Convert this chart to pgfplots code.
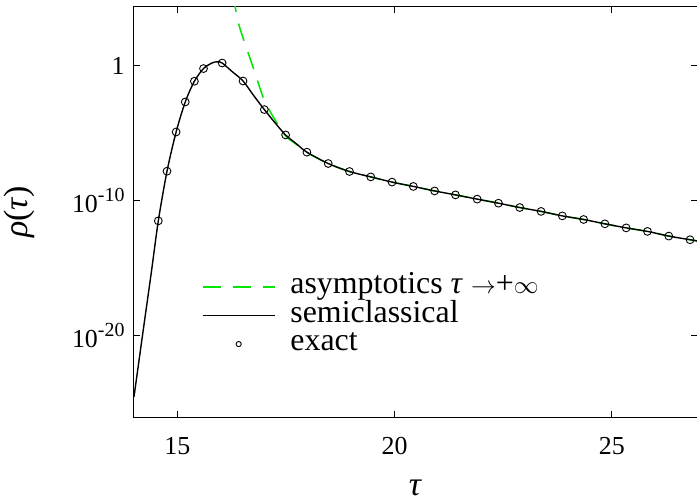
\documentclass[border=0pt]{standalone}
\usepackage{fontspec}
\setmainfont{Liberation Serif}
\usepackage{pgfplots}
\usepackage{pgfplotstable}
\pgfplotsset{compat=1.18}
\definecolor{asymgreen}{RGB}{0,230,0}

% exact values
\pgfplotstableread{
tau rho
14.56 3.09e-12
14.76 1.48e-8
14.97 1.20e-5
15.18 2.0e-3
15.39 6.9e-2
15.60 0.60
16.03 1.55
16.51 7.2e-2
17.00 5.5e-4
17.49 7.2e-6
17.98 3.8e-7
18.47 5.5e-8
18.96 1.41e-8
19.45 5.6e-9
19.94 2.3e-9
20.43 1.10e-9
20.92 5.1e-10
21.40 2.6e-10
21.90 1.26e-10
22.39 6.3e-11
22.88 3.0e-11
23.37 1.55e-11
23.86 7.2e-12
24.35 3.9e-12
24.84 1.86e-12
25.33 9.3e-13
25.82 5.1e-13
26.31 2.3e-13
26.80 1.23e-13
}\exacttab

% semiclassical curve
\pgfplotstableread{
tau rho
14.00 2.8e-25
14.20 1.26e-20
14.40 5.0e-16
14.56 3.09e-12
14.76 1.48e-8
14.97 1.20e-5
15.18 2.0e-3
15.39 6.9e-2
15.60 0.60
15.80 1.58
15.92 1.9
16.03 1.55
16.25 0.38
16.51 7.2e-2
16.75 6.3e-3
17.00 5.5e-4
17.25 5.6e-5
17.49 7.2e-6
17.75 1.48e-6
17.98 3.8e-7
18.47 5.5e-8
18.96 1.41e-8
19.45 5.6e-9
19.94 2.3e-9
20.43 1.10e-9
20.92 5.1e-10
21.40 2.6e-10
21.90 1.26e-10
22.39 6.3e-11
22.88 3.0e-11
23.37 1.55e-11
23.86 7.2e-12
24.35 3.9e-12
24.84 1.86e-12
25.33 9.3e-13
25.82 5.1e-13
26.31 2.3e-13
26.80 1.23e-13
26.96 1.0e-13
}\semitab

% large-tau asymptotics
\pgfplotstableread{
tau rho
16.28 2.0e5
16.33 2.2e4
16.43 7.2e2
16.60 15.8
16.74 0.79
16.97 4.7e-3
17.15 3.2e-4
17.35 2.8e-5
17.50 5.6e-6
17.75 1.35e-6
17.98 3.7e-7
18.47 5.4e-8
18.96 1.40e-8
19.45 5.6e-9
19.94 2.3e-9
20.43 1.10e-9
20.92 5.1e-10
21.40 2.6e-10
21.90 1.26e-10
22.39 6.3e-11
22.88 3.0e-11
23.37 1.55e-11
23.86 7.2e-12
24.35 3.9e-12
24.84 1.86e-12
25.33 9.3e-13
25.82 5.1e-13
26.31 2.3e-13
26.80 1.23e-13
26.96 1.0e-13
}\asymtab

\newcommand{\sexp}[1]{\raisebox{0.42em}{\fontsize{20}{20}\selectfont #1}}

\begin{document}
\begin{tikzpicture}
\begin{axis}[
    at={(0,0)}, anchor=south west,
    scale only axis, width=563bp, height=410bp,
    xmin=14, xmax=26.96,
    ymode=log, ymin=8.9e-27, ymax=2.2e4,
    xtick={15,20,25}, xticklabels={15,20,25},
    ytick={1e-20,1e-10,1},
    yticklabels={10\sexp{-20},10\sexp{-10},1},
    yminorticks=false, xminorticks=false,
    /pgf/number format/assume math mode=true,
    axis line style={black, line width=1bp},
    tick style={black, line width=0.8bp},
    major tick length=6bp,
    ticklabel style={font=\fontsize{26}{26}\selectfont},
    xticklabel style={yshift=-17bp},
    yticklabel style={xshift=-6bp},
    xlabel={\textit{τ}}, ylabel={\textit{ρ}(\textit{τ})},
    label style={font=\fontsize{34}{34}\selectfont},
    xlabel style={yshift=-18bp},
    ylabel style={yshift=30bp},
    legend image code/.code={\draw[mark repeat=2,mark phase=2,#1]
        plot coordinates {(0bp,0bp) (36bp,0bp) (72bp,0bp)};},
    legend style={draw=none, fill=none, at={(0.115,0.357)}, anchor=north west,
        font=\fontsize{32}{32}\selectfont, row sep=0bp, column sep=15bp,
        nodes={inner sep=0bp, text height=21bp, text depth=7.5bp}},
    legend cell align=left,
]
\addplot[asymgreen, line width=1.5bp, dash pattern=on 18bp off 12bp, smooth]
    table[x=tau, y=rho] {\asymtab};
\addlegendentry{asymptotics \textit{τ} $\rightarrow$+$\infty$}
\addplot[black, line width=1.4bp, smooth]
    table[x=tau, y=rho] {\semitab};
\addlegendentry{semiclassical}
\addplot[only marks, mark=o, mark size=3.9bp,
    mark options={fill=white, draw=black, line width=0.9bp},
    legend image post style={mark size=2.6bp}]
    table[x=tau, y=rho] {\exacttab};
\addlegendentry{exact}
\end{axis}
\pgfresetboundingbox
\path[use as bounding box] (-134bp,-83bp) rectangle (563bp,417bp);
\end{tikzpicture}
\end{document}
